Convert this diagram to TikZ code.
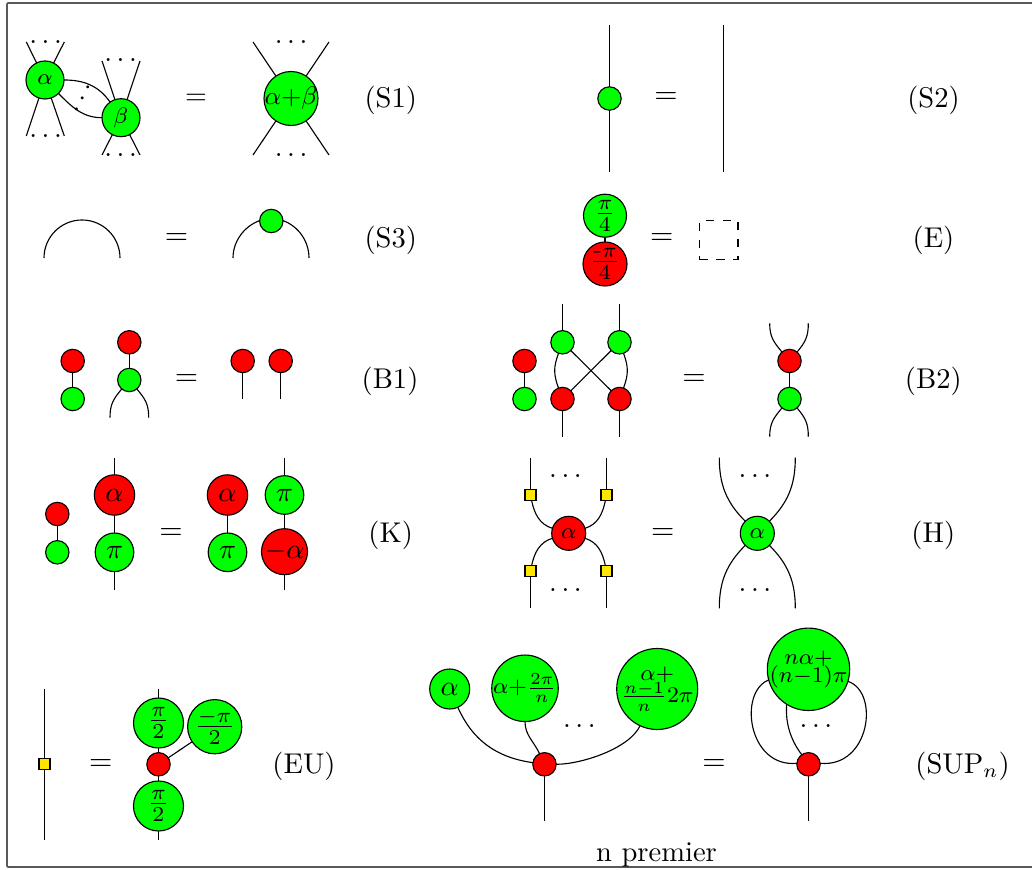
\documentclass[tikz,border=0pt]{standalone}
\usepackage{amsmath}
\definecolor{zxgreen}{RGB}{0,255,0}
\definecolor{zxred}{RGB}{255,0,0}
\definecolor{zxyellow}{RGB}{255,230,0}
\newcommand{\eqa}{\scalebox{1.07}{$=$}}
\newcommand{\bigfr}[2]{\scalebox{1.08}{$\frac{#1}{#2}$}}
\newcommand{\freeleg}[3]{\coordinate (#1) at (#2); \draw (#1) -- (#3);}
\newcommand{\twolines}[3]{\vbox{\lineskiplimit=-100pt\baselineskip=#1\halign{\hfil##\hfil\cr#2\cr#3\cr}}}
\newlength{\unitpx}\setlength{\unitpx}{0.357pt}
\tikzset{
  spider/.style={circle,draw,inner sep=0pt,outer sep=0pt,minimum size=#1},
  gr/.style={spider=#1,fill=zxgreen},
  rd/.style={spider=#1,fill=zxred},
  hbox/.style={rectangle,draw,fill=zxyellow,inner sep=0pt,outer sep=0pt,minimum size=11\unitpx},
  txt/.style={inner sep=0pt,outer sep=0pt},
  lab/.style={inner sep=0pt,outer sep=0pt,font=\fontsize{10.2}{12}\selectfont},
  dotsn/.style={inner sep=0pt,outer sep=0pt},
  inlabel/.style={label={[inner sep=0pt,outer sep=0pt]center:#1}},
}
\begin{document}
\begin{tikzpicture}[x=1\unitpx,y=-1\unitpx]
\useasboundingbox (0,0) rectangle (1032,870);
\coordinate (fa) at (7,3); \coordinate (fb) at (1040,867);
\draw[rounded corners=1\unitpx,black!65,line width=0.55pt] (fa) rectangle (fb);

% S1
\node[gr=38\unitpx] (s1a) at (45,80) {\footnotesize$\alpha$};
\node[gr=38\unitpx] (s1b) at (121,117.7) {\footnotesize$\beta$};
\freeleg{p1}{26.3,42}{s1a}\freeleg{p2}{64.3,42}{s1a}\freeleg{p3}{26.3,136}{s1a}\freeleg{p4}{64.3,136}{s1a}
\freeleg{p5}{102,61}{s1b}\freeleg{p6}{140,61}{s1b}\freeleg{p7}{102,155}{s1b}\freeleg{p8}{140,155}{s1b}
\draw (s1a) to[out=0,in=125] (s1b);
\draw (s1a) to[out=-45,in=180] (s1b);
\node[dotsn] (d1) at (48,42.5) {$\dots$};
\node[dotsn] (d2) at (48,136) {$\dots$};
\node[dotsn] (d3) at (123,60.5) {$\dots$};
\node[dotsn] (d4) at (123,155) {$\dots$};
\node[dotsn,rotate=63] (d5) at (83.3,96.3) {$\dots$};
\node[txt] (e1) at (196,99) {$=$};
\node[gr=54\unitpx,inlabel={\small$\alpha{+}\beta$}] (s1c) at (291,98.5) {};
\freeleg{p9}{253,42}{s1c}\freeleg{p10}{329,42}{s1c}\freeleg{p11}{253,155}{s1c}\freeleg{p12}{329,155}{s1c}
\node[dotsn] (d6) at (293.5,42.5) {$\dots$};
\node[dotsn] (d7) at (293.5,155) {$\dots$};
\node[lab] (l1) at (390.8,100) {(S1)};

% S2
\node[gr=23.4\unitpx] (s2a) at (609.5,98.5) {};
\freeleg{q1}{609.5,25}{s2a}\freeleg{q2}{609.5,172}{s2a}
\node[txt] (e2) at (666,98) {\eqa};
\coordinate (q3) at (723.5,25); \coordinate (q4) at (723.5,172);
\draw (q3) -- (q4);
\node[lab] (l2) at (933.5,100) {(S2)};

% S3
\coordinate (r1) at (44,258); \coordinate (r2) at (120,258);
\draw (r1) .. controls (44,237) and (61,220) .. (82,220) .. controls (103,220) and (120,237) .. (r2);
\node[txt] (e3) at (176.6,239.3) {\eqa};
\node[gr=23.4\unitpx] (s3a) at (271.3,221) {};
\coordinate (r3) at (233,258); \coordinate (r4) at (309,258);
\draw (r3) .. controls (233,241.3) and (244,226.4) .. (s3a.178);
\draw (r4) .. controls (309,241.3) and (298.6,226.4) .. (s3a.2);
\node[lab] (l3) at (390.8,240) {(S3)};

% E
\node[gr=43\unitpx] (ea) at (605,215.7) {\bigfr{\pi}{4}};
\node[rd=42\unitpx] (eb) at (605,264) {\bigfr{\mbox{\footnotesize-}\pi}{4}};
\draw (ea) -- (eb);
\node[txt] (e4) at (661.7,239.3) {\eqa};
\node[rectangle,draw,dashed,inner sep=0pt,minimum width=38.6\unitpx,minimum height=38.4\unitpx] (eb2) at (718.7,239.9) {};
\node[lab] (l4) at (933.5,240) {(E)};

% B1
\node[rd=23.4\unitpx] (b1a) at (72.7,361) {};
\node[gr=23.4\unitpx] (b1b) at (72.7,399) {};
\draw (b1a) -- (b1b);
\node[rd=23.4\unitpx] (b1c) at (129.3,342.3) {};
\node[gr=23.4\unitpx] (b1d) at (129.3,380) {};
\draw (b1c) -- (b1d);
\coordinate (t1) at (110,417.7); \coordinate (t2) at (148.7,417.7);
\draw (t1) to[out=90,in=230,looseness=1.1] (b1d);
\draw (t2) to[out=90,in=-50,looseness=1.1] (b1d);
\node[txt] (e5) at (186.5,380) {\eqa};
\node[rd=23.4\unitpx] (b1e) at (242.7,361) {};
\node[rd=23.4\unitpx] (b1f) at (280.7,361) {};
\freeleg{t3}{242.7,399}{b1e}\freeleg{t4}{280.7,399}{b1f}
\node[lab] (l5) at (390,381) {(B1)};

% B2
\node[rd=23.4\unitpx] (b2a) at (524.5,361) {};
\node[gr=23.4\unitpx] (b2b) at (524.5,399) {};
\draw (b2a) -- (b2b);
\node[gr=23.4\unitpx] (b2c) at (562.5,342.3) {};
\node[gr=23.4\unitpx] (b2d) at (619.5,342.3) {};
\node[rd=23.4\unitpx] (b2e) at (562.5,399) {};
\node[rd=23.4\unitpx] (b2f) at (619.5,399) {};
\freeleg{u1}{562.5,304.3}{b2c}\freeleg{u2}{619.5,304.3}{b2d}\freeleg{u3}{562.5,436.7}{b2e}\freeleg{u4}{619.5,436.7}{b2f}
\draw (b2c) -- (b2f);
\draw (b2d) -- (b2e);
\draw (b2c) to[out=250,in=110,looseness=1.1] (b2e);
\draw (b2d) to[out=-70,in=70,looseness=1.1] (b2f);
\node[txt] (e6) at (694,380.3) {\eqa};
\node[rd=23.4\unitpx] (b2g) at (789.5,361) {};
\node[gr=23.4\unitpx] (b2h) at (789.5,399) {};
\draw (b2g) -- (b2h);
\coordinate (u5) at (769.7,323.3); \coordinate (u6) at (808.3,323.3);
\coordinate (u7) at (769.7,436.7); \coordinate (u8) at (808.3,436.7);
\draw (u5) to[out=-90,in=130,looseness=1.1] (b2g);
\draw (u6) to[out=-90,in=50,looseness=1.1] (b2g);
\draw (u7) to[out=90,in=230,looseness=1.1] (b2h);
\draw (u8) to[out=90,in=-50,looseness=1.1] (b2h);
\node[lab] (l6) at (933.3,381) {(B2)};

% K
\node[rd=23.4\unitpx] (ka) at (57.3,514) {};
\node[gr=23.4\unitpx] (kb) at (57.3,552.3) {};
\draw (ka) -- (kb);
\node[rd=40.4\unitpx] (kc) at (114.5,495) {$\alpha$};
\node[gr=38.6\unitpx] (kd) at (114.5,552.3) {$\pi$};
\draw (kc) -- (kd);
\freeleg{v1}{114.5,458}{kc}\freeleg{v2}{114.5,589.7}{kd}
\node[txt] (e7) at (171,533.7) {\eqa};
\node[rd=40.4\unitpx] (ke) at (227.5,495) {$\alpha$};
\node[gr=38.6\unitpx] (kf) at (227.5,552.3) {$\pi$};
\draw (ke) -- (kf);
\node[gr=38.6\unitpx] (kg) at (284.5,495) {$\pi$};
\node[rd=46\unitpx] (kh) at (284.5,551.7) {$-\alpha$};
\draw (kg) -- (kh);
\freeleg{v3}{284.5,458}{kg}\freeleg{v4}{284.5,589.7}{kh}
\node[lab] (l7) at (390.7,535) {(K)};

% H
\node[rd=34\unitpx] (ha) at (568.7,533.3) {\footnotesize$\alpha$};
\node[hbox] (hb) at (530.5,495.3) {};
\node[hbox] (hc) at (606.5,495.3) {};
\node[hbox] (hd) at (530.5,571) {};
\node[hbox] (he) at (606.5,571) {};
\freeleg{w1}{530.5,458}{hb}\freeleg{w2}{606.5,458}{hc}\freeleg{w3}{530.5,608.3}{hd}\freeleg{w4}{606.5,608.3}{he}
\draw (hb) to[out=-78,in=163] (ha);
\draw (hc) to[out=-102,in=17] (ha);
\draw (hd) to[out=78,in=197] (ha);
\draw (he) to[out=102,in=-17] (ha);
\node[dotsn] (d8) at (567.8,475.8) {$\dots$};
\node[dotsn] (d9) at (567.8,589.8) {$\dots$};
\node[txt] (e8) at (662.7,533.7) {\eqa};
\node[gr=34\unitpx] (hf) at (757.3,533.3) {\footnotesize$\alpha$};
\coordinate (w5) at (719.3,457.7); \coordinate (w6) at (795.3,457.7);
\coordinate (w7) at (719.3,608.3); \coordinate (w8) at (795.3,608.3);
\draw (w5) to[out=-90,in=135] (hf);
\draw (w6) to[out=-90,in=45] (hf);
\draw (w7) to[out=90,in=225] (hf);
\draw (w8) to[out=90,in=-45] (hf);
\node[dotsn] (d10) at (757.3,475.8) {$\dots$};
\node[dotsn] (d11) at (757.3,589.8) {$\dots$};
\node[lab] (l8) at (933.3,535) {(H)};

% EU
\node[hbox] (ea1) at (44.5,764.3) {};
\freeleg{x1}{44.5,689}{ea1}\freeleg{x2}{44.5,840}{ea1}
\node[txt] (e9) at (100.7,765.3) {\eqa};
\node[gr=50\unitpx] (eua) at (158.5,723) {\bigfr{\pi}{2}};
\node[rd=23.4\unitpx] (eub) at (158.5,764.3) {};
\node[gr=50\unitpx] (euc) at (158.5,806) {\bigfr{\pi}{2}};
\node[gr=51\unitpx] (eud) at (214.7,726.7) {\bigfr{-\pi}{2}};
\freeleg{x3}{158.5,689}{eua}\freeleg{x4}{158.5,840}{euc}
\draw (eua) -- (eub);
\draw (eub) -- (euc);
\draw (eub) -- (eud);
\node[lab] (l9) at (304,766) {(EU)};

% SUP
\node[gr=40\unitpx] (sa) at (449.7,689) {$\alpha$};
\node[gr=66.5\unitpx,inlabel={\footnotesize$\alpha{+}\frac{2\pi}{n}$}] (sb) at (525,688.3) {};
\node[gr=81\unitpx,inlabel={\footnotesize\twolines{8pt}{$\alpha{+}$}{$\frac{n-1}{n}2\pi$}}] (sc) at (657.2,689) {};
\node[rd=23.4\unitpx] (sd) at (544.5,764.3) {};
\freeleg{y1}{544.5,821}{sd}
\draw (sa) to[out=-66,in=172] (sd);
\draw (sb) to[out=-90,in=115] (sd);
\draw (sc) to[out=245,in=0,looseness=0.7] (sd);
\node[dotsn] (d12) at (581.7,725.8) {$\dots$};
\node[txt] (e10) at (714,765.3) {\eqa};
\node[gr=82.4\unitpx,inlabel={\raisebox{-0.8pt}{\footnotesize\twolines{6.4pt}{$n\alpha{+}$}{$(n{-}1)\pi$}}}] (se) at (808.5,669.3) {};
\node[rd=23.4\unitpx] (sf) at (808.5,764.3) {};
\freeleg{y2}{808.5,821}{sf}
\draw (se.195) .. controls (738,692) and (748,768) .. (sf.175);
\draw (se.-17) .. controls (880,692) and (870,768) .. (sf.5);
\draw (se.238) .. controls (785,725) and (792,742) .. (sf.125);
\node[dotsn] (d13) at (818.3,725.8) {$\dots$};
\node[lab] (l10) at (962.5,766) {(SUP$_n$)};
\node[lab] (np) at (656.5,855) {n premier};
\end{tikzpicture}
\end{document}
